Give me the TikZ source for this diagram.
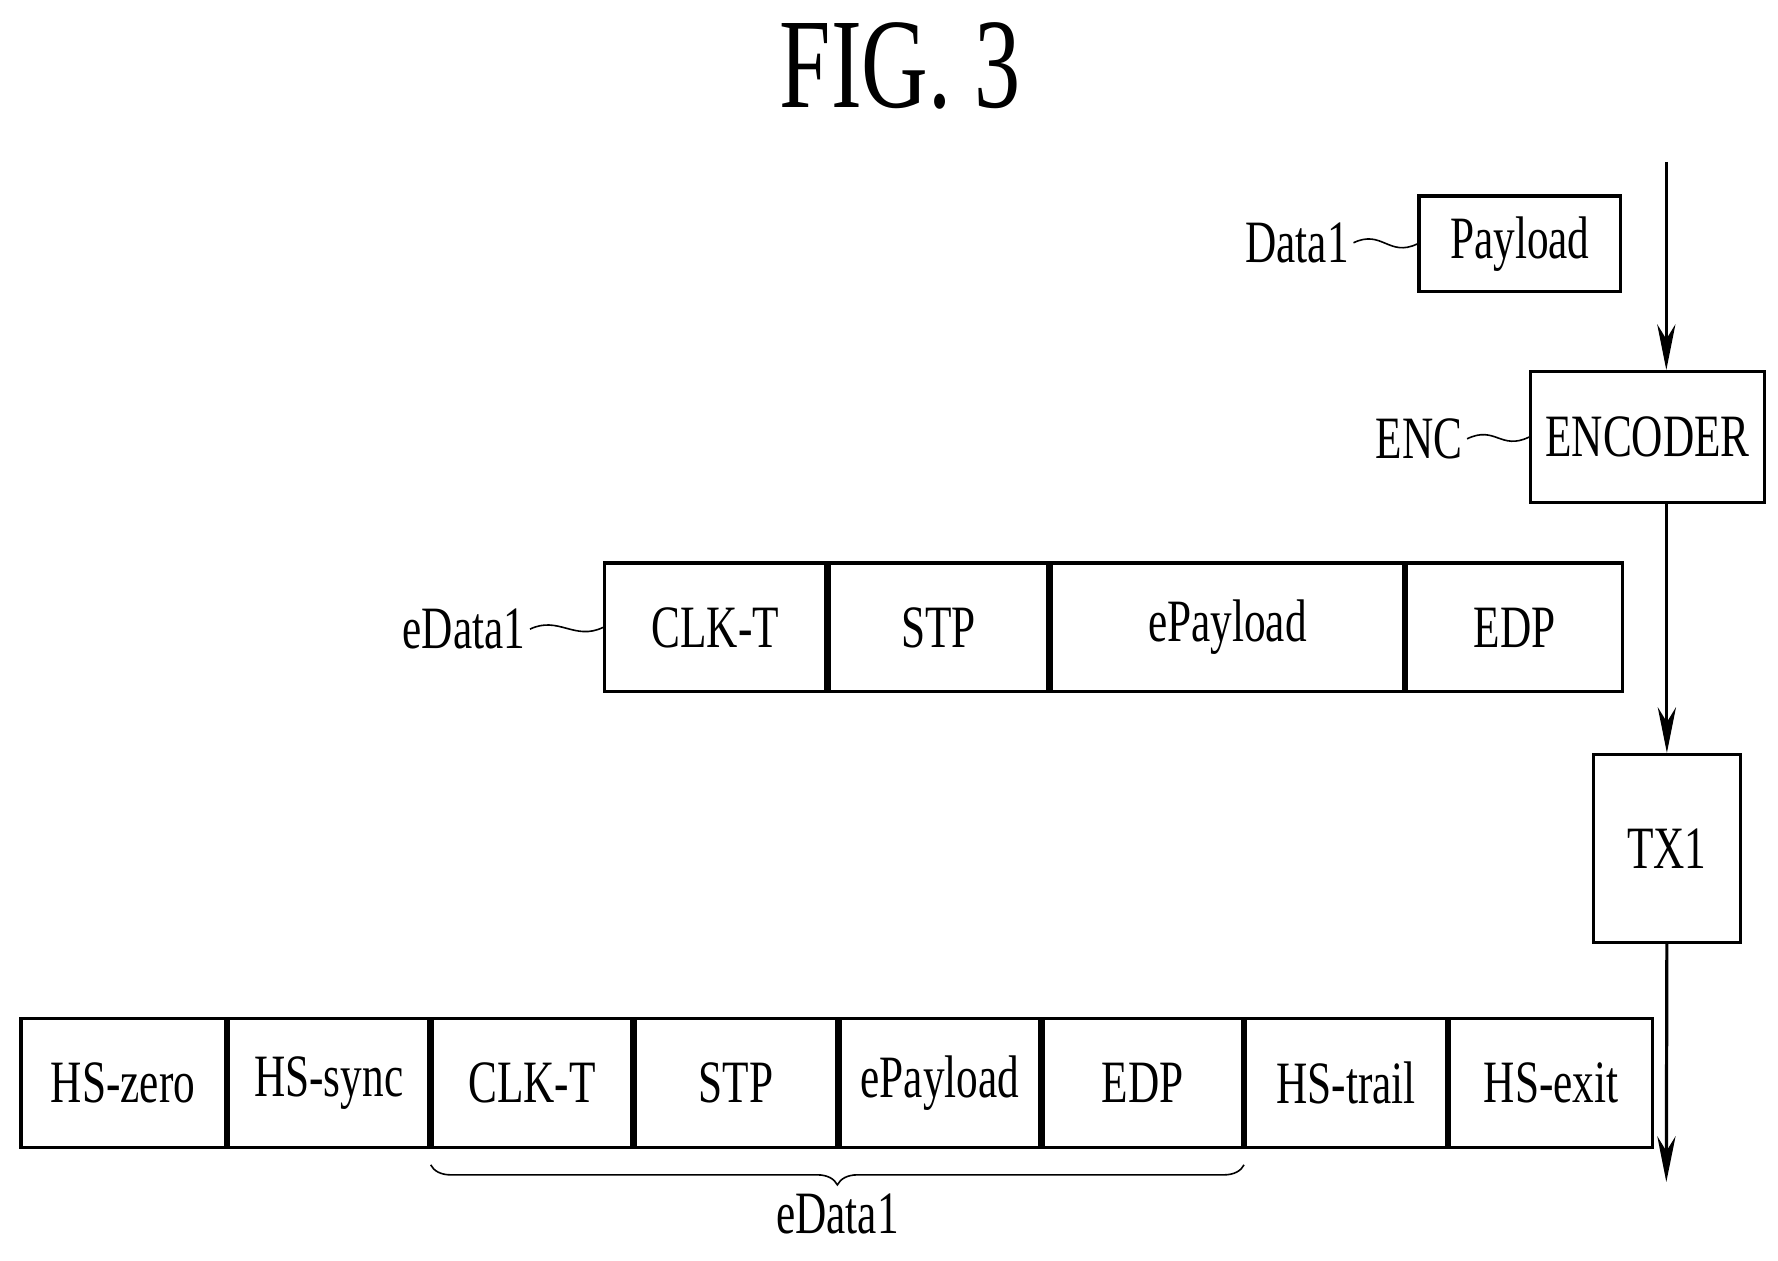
\documentclass[tikz,border=0pt]{standalone}
\usepackage{fontspec}
\setmainfont{Liberation Serif}[FakeStretch=0.72]
\usetikzlibrary{positioning,arrows.meta,decorations.pathreplacing}

\tikzset{
  cell/.style={draw, thick, inner sep=0pt, minimum height=1.13cm, font=\fontsize{15}{15}\selectfont},
  lbl/.style={inner sep=1pt, font=\fontsize{15}{15}\selectfont},
  flow/.style={thick, -{Stealth[length=4mm,width=1.6mm]}},
  tilde/.style={thin}
}

\begin{document}
\begin{tikzpicture}[x=0.01cm,y=-0.01cm]
    \useasboundingbox (0,0) rectangle (1560,1106);

    \node[font=\fontsize{32}{32}\selectfont] (title) at (790,58) {FIG. 3};

    % input path
    \coordinate (top) at (1462,142);
    \node[cell, minimum width=1.77cm, minimum height=0.84cm] (payload) at (1333.5,214) {Payload};
    \node[lbl] (data1) at (1138,213) {Data1};
    \node[cell, minimum width=2.05cm, minimum height=1.15cm] (enc) at (1445.5,383.5) {ENCODER};
    \node[lbl] (enclbl) at (1245,385) {ENC};
    \node[cell, minimum width=1.29cm, minimum height=1.65cm] (tx) at (1462.5,744.5) {TX1};
    \coordinate (out) at (1462,1037);

    \draw[flow] (top) -- (top |- enc.north);
    \draw[flow] (enc.south -| tx) -- (tx.north);
    \draw[flow] (tx.south) -- (out);

    % encoded data
    \node[cell, minimum width=1.94cm] (e1) at (627.5,550.5) {CLK-T};
    \node[cell, minimum width=1.92cm, right=0pt of e1] (e2) {STP};
    \node[cell, minimum width=3.09cm, right=0pt of e2] (e3) {ePayload};
    \node[cell, minimum width=1.89cm, right=0pt of e3] (e4) {EDP};
    \node[lbl] (edata) at (407,552) {eData1};

    % transmitted packet
    \node[cell, minimum width=1.79cm] (p1) at (108,950) {HS-zero};
    \node[cell, minimum width=1.76cm, right=0pt of p1] (p2) {HS-sync};
    \node[cell, minimum width=1.75cm, right=0pt of p2] (p3) {CLK-T};
    \node[cell, minimum width=1.77cm, right=0pt of p3] (p4) {STP};
    \node[cell, minimum width=1.75cm, right=0pt of p4] (p5) {ePayload};
    \node[cell, minimum width=1.75cm, right=0pt of p5] (p6) {EDP};
    \node[cell, minimum width=1.76cm, right=0pt of p6] (p7) {HS-trail};
    \node[cell, minimum width=1.78cm, right=0pt of p7] (p8) {HS-exit};

    \draw[thin, decorate, decoration={brace, mirror, amplitude=5pt}]
        ([yshift=-4pt]p3.south west) -- ([yshift=-4pt]p6.south east)
        node[lbl, midway, below=6pt] (edata2) {eData1};

    % lead lines
    \draw[tilde] (data1.east) .. controls +(25,-12) and +(-25,12) .. (payload.west);
    \draw[tilde] (enclbl.east) .. controls +(25,-12) and +(-25,12) .. (enc.west);
    \draw[tilde] (edata.east) .. controls +(25,-12) and +(-25,12) .. (e1.west);
\end{tikzpicture}
\end{document}
